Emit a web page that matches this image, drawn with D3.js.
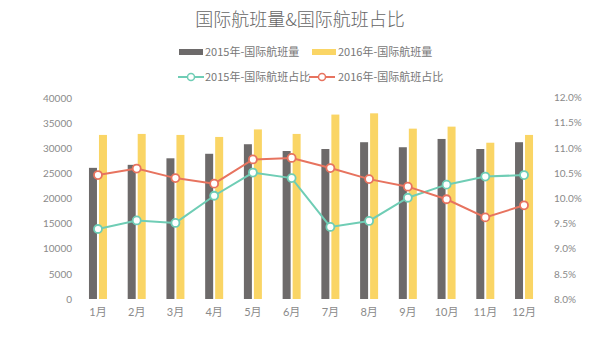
<!DOCTYPE html>
<html><head><meta charset="utf-8">
<script src="https://cdn.jsdelivr.net/npm/d3@7"></script>
<style>body{margin:0;background:#fff}svg{display:block}text{font-family:"Noto Sans CJK SC","Noto Sans",sans-serif}</style>
</head><body><svg id="c" width="600" height="345"></svg>
<script>
const months = ["1月","2月","3月","4月","5月","6月","7月","8月","9月","10月","11月","12月"];
const flights2015 = [26100,26700,28000,28900,30800,29450,29850,31200,30200,31850,29850,31200];
const flights2016 = [32650,32850,32650,32250,33750,32850,36700,36950,33900,34300,31100,32650];
const share2015 = [9.39,9.56,9.51,10.05,10.51,10.40,9.43,9.55,10.01,10.27,10.43,10.46];
const share2016 = [10.46,10.59,10.40,10.29,10.77,10.80,10.60,10.38,10.23,9.98,9.62,9.86];
const leftTicks = [0,5000,10000,15000,20000,25000,30000,35000,40000];
const rightTicks = [8.0,8.5,9.0,9.5,10.0,10.5,11.0,11.5,12.0];
const seriesNames = ["2015年-国际航班量","2016年-国际航班量","2015年-国际航班占比","2016年-国际航班占比"];

const C = {g:"#6d6a6a", y:"#fad565", t:"#6fcdb5", r:"#e7735f", txt:"#8a8a8a"};
const svg = d3.select("#c");
const x = d3.scaleBand().domain(months).range([78.6,543.4]);
const yL = d3.scaleLinear().domain([0,40000]).range([299,98]);
const yR = d3.scaleLinear().domain([8,12]).range([299,97.5]);

svg.append("text").attr("x",300).attr("y",26).attr("text-anchor","middle")
  .attr("font-size",18).attr("font-weight",300).attr("fill","#666").text("国际航班量&国际航班占比");

// axes
const gl = svg.append("g").attr("transform","translate(72,0)")
  .call(d3.axisLeft(yL).tickValues(leftTicks).tickSize(0).tickPadding(0).tickFormat(d3.format("d")));
const gr = svg.append("g").attr("transform","translate(554,0)")
  .call(d3.axisRight(yR).tickValues(rightTicks).tickSize(0).tickPadding(0).tickFormat(d=>d.toFixed(1)+"%"));
const gb = svg.append("g").attr("transform","translate(0,306)")
  .call(d3.axisBottom(x).tickSize(0).tickPadding(0));
[gl,gr,gb].forEach(g=>{g.select(".domain").remove();
  g.selectAll("text").attr("fill",C.txt).attr("font-size",10).style("font-family","Lato,'Noto Sans CJK SC',sans-serif");});
gb.selectAll("text").attr("font-size",11).attr("dy","0.9em");

// bars
const bw = 8;
svg.append("g").selectAll("rect").data(months).join("rect")
  .attr("x",d=>x(d)+x.bandwidth()/2-bw-1).attr("width",bw)
  .attr("y",(d,i)=>yL(flights2015[i])).attr("height",(d,i)=>yL(0)-yL(flights2015[i])).attr("fill",C.g);
svg.append("g").selectAll("rect").data(months).join("rect")
  .attr("x",d=>x(d)+x.bandwidth()/2+1).attr("width",bw)
  .attr("y",(d,i)=>yL(flights2016[i])).attr("height",(d,i)=>yL(0)-yL(flights2016[i])).attr("fill",C.y);

// lines
function drawLine(vals,col){
  const line = d3.line().x((d,i)=>x(months[i])+x.bandwidth()/2).y(d=>yR(d));
  svg.append("path").datum(vals).attr("d",line).attr("fill","none").attr("stroke",col).attr("stroke-width",2);
  svg.append("g").selectAll("circle").data(vals).join("circle")
    .attr("cx",(d,i)=>x(months[i])+x.bandwidth()/2).attr("cy",d=>yR(d)).attr("r",4)
    .attr("fill","#fff").attr("stroke",col).attr("stroke-width",1.8);
}
drawLine(share2015,C.t);
drawLine(share2016,C.r);

// legend
const lg = svg.append("g").attr("font-size",11).attr("fill","#777");
const items = [
  {x:179,y:52,type:"rect",c:C.g},{x:312,y:52,type:"rect",c:C.y},
  {x:178,y:77,type:"line",c:C.t},{x:309,y:77,type:"line",c:C.r}];
items.forEach((it,i)=>{
  if(it.type==="rect"){
    lg.append("rect").attr("x",it.x).attr("y",it.y-3).attr("width",24).attr("height",6).attr("fill",it.c);
  } else {
    lg.append("line").attr("x1",it.x).attr("x2",it.x+26).attr("y1",it.y).attr("y2",it.y).attr("stroke",it.c).attr("stroke-width",2);
    lg.append("circle").attr("cx",it.x+13).attr("cy",it.y).attr("r",3.5).attr("fill","#fff").attr("stroke",it.c).attr("stroke-width",1.5);
  }
  lg.append("text").attr("x",(i%2? 338:205)).attr("y",it.y).attr("dy","0.35em").attr("fill","#777").text(seriesNames[i]);
});
</script></body></html>
